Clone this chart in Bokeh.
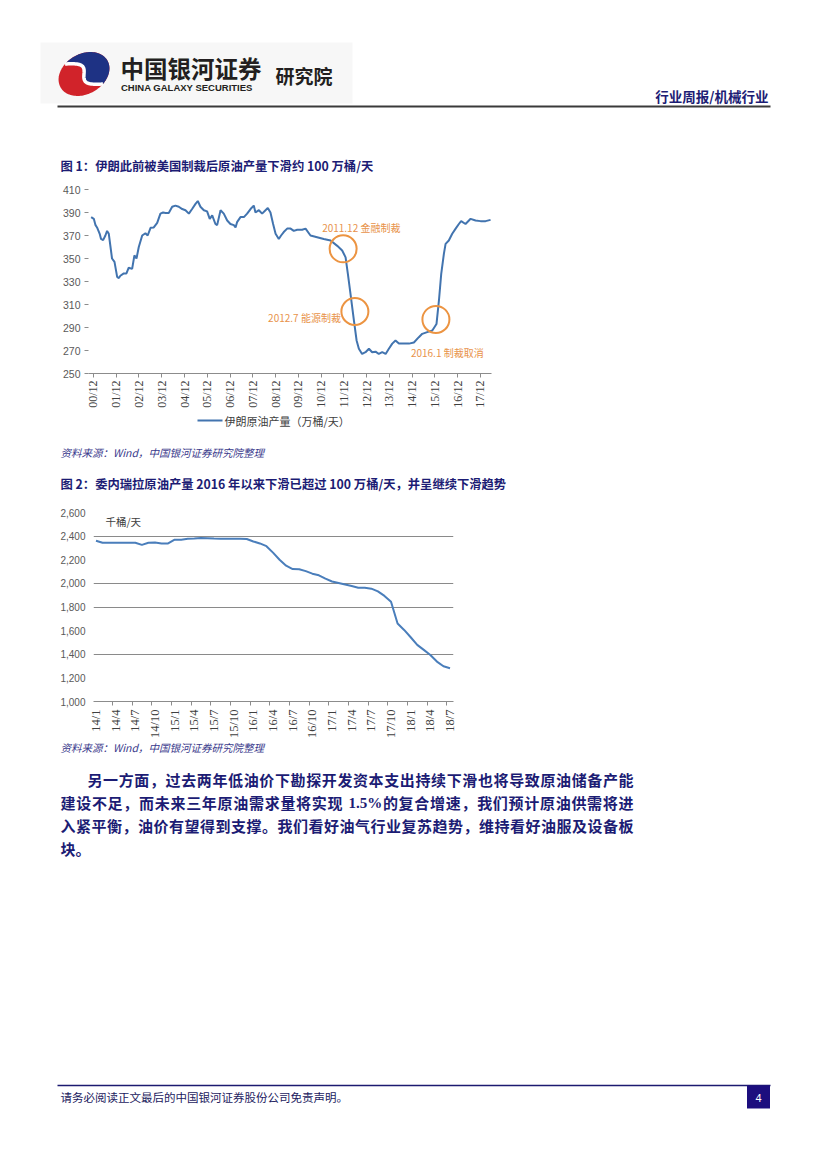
import numpy as np
from bokeh.plotting import figure
from bokeh.models import Range1d, FixedTicker, Label, NumeralTickFormatter
from bokeh.embed import file_html
from bokeh.resources import INLINE
from bokeh.core.properties import value

# ---------------- data ----------------
iran_month = [-1.2, 0.2, 1.1, 1.9, 3.3, 4.0, 5.1, 6.3, 7.2, 8.1, 9.0, 9.8, 11.1, 12.5, 13.4,
              14.2, 16.0, 17.4, 18.6, 20.4, 21.6, 22.7, 23.9, 25.7, 27.4, 28.6, 30.1, 31.8,
              33.6, 35.3, 36.7, 38.0, 39.7, 41.5, 43.2, 45.0, 46.8, 48.5, 50.3, 52.0, 53.8,
              55.0, 56.4, 58.2, 59.9, 61.3, 62.6, 64.3, 65.2, 67.0, 68.7, 70.5, 72.2, 74.0,
              74.9, 75.7, 77.5, 79.3, 81.0, 82.8, 84.5, 85.4, 87.2, 88.9, 90.7, 91.9, 93.3,
              94.7, 96.0, 97.7, 98.9, 100.3, 102.1, 103.9, 105.6, 107.4, 110.0, 111.8,
              114.4, 117.9, 121.4, 125.0, 128.5, 131.1, 132.9, 134.1, 135.5, 137.3, 138.7,
              139.9, 141.6, 143.4, 145.2, 146.9, 148.7, 150.4, 152.2, 154.0, 155.7, 157.5,
              159.2, 161.0, 163.6, 166.3, 168.9, 171.5, 173.3, 175.9, 178.6, 180.8, 182.1,
              183.3, 184.7, 185.6, 187.3, 189.1, 190.9, 192.6, 193.8, 196.1, 198.8, 201.4,
              204.0, 206.7, 209.3]
iran_value = [386, 384.5, 379, 377, 371.5, 367, 366, 370, 374, 371.5, 360, 350, 347, 334, 333,
              335, 337, 337, 342, 341, 352.7, 350, 360, 370, 372, 370, 376.7, 377,
              381, 389, 390, 389.5, 389.5, 395, 396, 395, 393, 392, 389, 393, 397.5,
              400, 395, 392, 391, 384.5, 387.5, 380, 379, 392, 389, 383, 380, 379,
              377, 381.6, 386, 386, 389, 393, 396, 390, 392, 389, 392, 394, 390,
              380, 371.5, 367, 370, 373, 376, 376, 374, 375, 375, 376,
              370, 368.5, 367, 365.6, 361, 357, 351, 336.7, 319, 296, 278.7,
              271.5, 267, 268.5, 271.5, 268.5, 269, 267, 268.5, 267, 271.5, 276,
              278.7, 276, 276, 276, 277, 281.6, 284.5, 286, 287.4, 293, 313.5,
              336.7, 354, 362.7, 365.6, 371.5, 376, 380, 382.5, 380, 384.5, 383,
              382.5, 382.5, 383.6]
iran_tick_month = [0, 12, 24, 36, 48, 60, 72, 84, 96, 108, 120, 132, 144, 156, 168, 180, 192, 204]
iran_tick_label = ["00/12", "01/12", "02/12", "03/12", "04/12", "05/12", "06/12", "07/12",
                   "08/12", "09/12", "10/12", "11/12", "12/12", "13/12", "14/12", "15/12",
                   "16/12", "17/12"]
iran_y_ticks = [250, 270, 290, 310, 330, 350, 370, 390, 410]
iran_legend = "伊朗原油产量（万桶/天）"

ann_month = [131.6, 137.8, 180.5]
ann_value = [358.4, 303.9, 297.0]
ann_label = ["2011.12 金融制裁", "2012.7 能源制裁", "2016.1 制裁取消"]

ven_month = list(range(55))
ven_value = [2361, 2344, 2344, 2344, 2344, 2344, 2344, 2326, 2344, 2346,
             2338, 2338, 2370, 2370, 2377, 2380, 2385, 2382, 2379, 2378,
             2378, 2378, 2378, 2376, 2355, 2338, 2315, 2260, 2200, 2150,
             2121, 2120, 2104, 2082, 2068, 2040, 2016, 2003, 1990, 1977,
             1963, 1963, 1955, 1932, 1894, 1845, 1660, 1606, 1544, 1479,
             1437, 1394, 1338, 1298, 1282]
ven_tick_month = [0, 3, 6, 9, 12, 15, 18, 21, 24, 27, 30, 33, 36, 39, 42, 45, 48, 51, 54]
ven_tick_label = ["14/1", "14/4", "14/7", "14/10", "15/1", "15/4", "15/7", "15/10", "16/1",
                  "16/4", "16/7", "16/10", "17/1", "17/4", "17/7", "17/10", "18/1", "18/4", "18/7"]
ven_y_ticks = [1000, 1200, 1400, 1600, 1800, 2000, 2200, 2400, 2600]
ven_grid_ticks = [1400, 1800, 2000, 2400]
ven_unit = "千桶/天"

header_name = "中国银河证券"
header_en = "CHINA GALAXY SECURITIES"
header_inst = "研究院"
header_right = "行业周报/机械行业"
fig1_title = "图 1：伊朗此前被美国制裁后原油产量下滑约 100 万桶/天"
fig2_title = "图 2：委内瑞拉原油产量 2016 年以来下滑已超过 100 万桶/天，并呈继续下滑趋势"
source_text = "资料来源：Wind，中国银河证券研究院整理"
para_lines = ["另一方面，过去两年低油价下勘探开发资本支出持续下滑也将导致原油储备产能",
              "建设不足，而未来三年原油需求量将实现 1.5%的复合增速，我们预计原油供需将进",
              "入紧平衡，油价有望得到支撑。我们看好油气行业复苏趋势，维持看好油服及设备板",
              "块。"]
footer_text = "请务必阅读正文最后的中国银河证券股份公司免责声明。"
page_no = "4"

# ---------------- style ----------------
W = 827
CJK = "Noto Sans CJK SC"
NAVY = "#1c1c74"
SRC = "#3a3a8c"
ORANGE = "#EC9442"
BLUE1 = "#4274AF"
BLUE2 = "#4A7EBB"
AXIS_GRAY = "#8c8c8c"
TICK_TXT = "#595959"


def canvas(top, bottom):
    p = figure(width=W, height=bottom - top, x_range=Range1d(0, W),
               y_range=Range1d(bottom, top), x_axis_type=None, y_axis_type=None,
               output_backend="svg", toolbar_location=None, min_border=0)
    p.outline_line_color = None
    return p


def txt(p, x, y, s, size, color, font=CJK, style="normal", align="left"):
    p.text(x=[x], y=[y], text=[s], text_font=value(font), text_font_size=f"{size}px",
           text_color=color, text_font_style=style, text_align=align, text_baseline="middle")


# ---------------- header band ----------------
pa = canvas(0, 180)
pa.quad(left=[40], right=[352], top=[42], bottom=[103], fill_color="#f7f7f7", line_color=None)

cx, cy, a, b, phi = 83.5, 73.5, 27.0, 20.0, np.deg2rad(-30)


def to_page(lx, ly):
    return (cx + lx * np.cos(phi) - ly * np.sin(phi), cy + lx * np.sin(phi) + ly * np.cos(phi))


tt = np.linspace(0, 2 * np.pi, 120)
ex, ey = to_page(a * np.cos(tt), b * np.sin(tt))
pa.patch(ex, ey, fill_color="#D1232A", line_color=None)
t_top, t_bot = np.deg2rad(-115), np.deg2rad(65)
ss = np.linspace(0, 1, 50)
x0l, y0l = a * np.cos(t_top), b * np.sin(t_top)
x1l, y1l = a * np.cos(t_bot), b * np.sin(t_bot)
slx = x0l + (x1l - x0l) * ss + 0.28 * a * np.sin(2 * np.pi * ss)
sly = y0l + (y1l - y0l) * ss
arc = np.linspace(t_bot, t_top, 80)
nx, ny = to_page(np.concatenate([slx, a * np.cos(arc)]), np.concatenate([sly, b * np.sin(arc)]))
pa.patch(nx, ny, fill_color="#1E3284", line_color=None)
sx, sy = to_page(slx, sly)
pa.line(sx, sy, line_color="white", line_width=3.5)

txt(pa, 120, 67, header_name, 23.5, "#231f20", style="bold")
txt(pa, 120.5, 86.5, header_en, 9.5, "#231f20", font="Liberation Sans", style="bold")
txt(pa, 275, 74.5, header_inst, 19, "#231f20", style="bold")
txt(pa, 768, 95, header_right, 13.5, NAVY, style="bold", align="right")
pa.line([57, 770], [106, 106], line_color="#3a3a3a", line_width=2)
txt(pa, 60, 165, fig1_title, 12.3, NAVY, style="bold")

# ---------------- chart 1 ----------------
p1 = figure(width=W, height=231, x_range=Range1d(-2.6, 209.8), y_range=Range1d(250, 410),
            output_backend="svg", toolbar_location=None,
            min_border_left=88, min_border_right=336, min_border_top=9, min_border_bottom=38)
p1.outline_line_color = None
p1.grid.visible = False
p1.line(iran_month, iran_value, line_color=BLUE1, line_width=2)

p1.xaxis.ticker = FixedTicker(ticks=iran_tick_month)
p1.xaxis.major_label_overrides = {m: l for m, l in zip(iran_tick_month, iran_tick_label)}
p1.xaxis.major_label_orientation = np.pi / 2
p1.xaxis.axis_line_color = AXIS_GRAY
p1.xaxis.major_tick_line_color = AXIS_GRAY
p1.xaxis.major_tick_in = 0
p1.xaxis.major_tick_out = 4
p1.xaxis.minor_tick_out = 0
p1.xaxis.minor_tick_in = 0
p1.xaxis.major_label_standoff = 3
p1.xaxis.major_label_text_font = "Liberation Serif"
p1.xaxis.major_label_text_font_size = "12px"
p1.xaxis.major_label_text_color = "#404040"

p1.yaxis.ticker = FixedTicker(ticks=iran_y_ticks)
p1.yaxis.axis_line_color = None
p1.yaxis.major_tick_line_color = AXIS_GRAY
p1.yaxis.major_tick_in = 0
p1.yaxis.major_tick_out = 4
p1.yaxis.minor_tick_out = 0
p1.yaxis.minor_tick_in = 0
p1.yaxis.major_label_standoff = 4
p1.yaxis.major_label_text_font = "Liberation Sans"
p1.yaxis.major_label_text_font_size = "10.5px"
p1.yaxis.major_label_text_color = TICK_TXT

p1.scatter(ann_month, ann_value, marker="circle", size=27, fill_color=None,
           line_color=ORANGE, line_width=2)
ann_dx = [-21, -14, -25]
ann_dy = [-21.6, 5.7, 32.7]
ann_align = ["left", "right", "left"]
for m, v, lab, dx, dy, al in zip(ann_month, ann_value, ann_label, ann_dx, ann_dy, ann_align):
    p1.text(x=[m], y=[v], text=[lab], x_offset=dx, y_offset=dy, text_align=al,
            text_baseline="middle", text_font=value(CJK), text_font_size="10px",
            text_color="#E8934A")

# ---------------- middle band (legend, source, title 2) ----------------
pc = canvas(411, 500)
pc.line([197, 222], [420, 420], line_color=BLUE1, line_width=2)
txt(pc, 224, 420, iran_legend, 11, "#404040")
txt(pc, 60, 451.7, source_text, 10.5, SRC, style="italic")
txt(pc, 60, 483, fig2_title, 12.3, NAVY, style="bold")

# ---------------- chart 2 ----------------
p2 = figure(width=W, height=240, x_range=Range1d(-0.38, 54.53), y_range=Range1d(1000, 2600),
            output_backend="svg", toolbar_location=None,
            min_border_left=93, min_border_right=374, min_border_top=12, min_border_bottom=38)
p2.outline_line_color = None
p2.xgrid.visible = False
p2.ygrid.ticker = FixedTicker(ticks=ven_grid_ticks)
p2.ygrid.grid_line_color = "#8a8a8a"
p2.ygrid.grid_line_width = 1
p2.line(ven_month, ven_value, line_color=BLUE2, line_width=2)

p2.xaxis.ticker = FixedTicker(ticks=ven_tick_month,
                              minor_ticks=[m - 0.5 for m in ven_tick_month[1:]])
p2.xaxis.major_label_overrides = {m: l for m, l in zip(ven_tick_month, ven_tick_label)}
p2.xaxis.major_label_orientation = np.pi / 2
p2.xaxis.axis_line_color = AXIS_GRAY
p2.xaxis.major_tick_out = 0
p2.xaxis.major_tick_in = 0
p2.xaxis.minor_tick_out = 4
p2.xaxis.minor_tick_in = 0
p2.xaxis.minor_tick_line_color = AXIS_GRAY
p2.xaxis.major_label_standoff = 4
p2.xaxis.major_label_text_font = "Liberation Serif"
p2.xaxis.major_label_text_font_size = "12.5px"
p2.xaxis.major_label_text_color = "#404040"

p2.yaxis.ticker = FixedTicker(ticks=ven_y_ticks)
p2.yaxis.formatter = NumeralTickFormatter(format="0,0")
p2.yaxis.axis_line_color = None
p2.yaxis.major_tick_out = 0
p2.yaxis.major_tick_in = 0
p2.yaxis.minor_tick_out = 0
p2.yaxis.minor_tick_in = 0
p2.yaxis.major_label_standoff = 8
p2.yaxis.major_label_text_font = "Liberation Sans"
p2.yaxis.major_label_text_font_size = "10px"
p2.yaxis.major_label_text_color = TICK_TXT

p2.add_layout(Label(x=1.45, y=2520, text=ven_unit, text_font=CJK, text_font_size="10.5px",
                    text_color="#404040", text_baseline="middle"))

# ---------------- bottom band ----------------
pe = canvas(740, 1169)
txt(pe, 60, 746.7, source_text, 10.5, SRC, style="italic")

LAT_W = {".": 0.25, "%": 1.0, " ": 0.3}


def tokens(s):
    out, buf = [], ""
    for c in s:
        if ord(c) >= 0x2E80 or c == " ":
            if buf:
                out.append(buf)
                buf = ""
            out.append(c)
        else:
            buf += c
    if buf:
        out.append(buf)
    return out


def tok_w(t):
    if len(t) == 1 and ord(t) >= 0x2E80:
        return 1.0
    return sum(LAT_W.get(c, 0.5) for c in t)


PSIZE = 15
line_x0 = [87, 60, 60, 60]
line_x1 = [633, 633, 633, None]
line_y = [779, 802, 825, 848]
cx_l, cy_l, ct_l = [], [], []
for s, x0, x1, y in zip(para_lines, line_x0, line_x1, line_y):
    toks = tokens(s)
    widths = [tok_w(t) * PSIZE for t in toks]
    extra = 0.0
    if x1 is not None and len(toks) > 1:
        extra = (x1 - x0 - sum(widths)) / (len(toks) - 1)
    x = x0
    for t, w in zip(toks, widths):
        if t != " ":
            cx_l.append(x)
            cy_l.append(y)
            ct_l.append(t)
        x += w + extra

cjk_idx = [i for i, t in enumerate(ct_l) if ord(t[0]) >= 0x2E80]
lat_idx = [i for i, t in enumerate(ct_l) if ord(t[0]) < 0x2E80]
pe.text(x=[cx_l[i] for i in cjk_idx], y=[cy_l[i] for i in cjk_idx], text=[ct_l[i] for i in cjk_idx],
        text_font=value(CJK), text_font_size=f"{PSIZE}px", text_font_style="bold",
        text_color=NAVY, text_baseline="middle", text_align="left")
pe.text(x=[cx_l[i] for i in lat_idx], y=[cy_l[i] for i in lat_idx], text=[ct_l[i] for i in lat_idx],
        text_font=value("Liberation Serif"), text_font_size=f"{PSIZE}px", text_font_style="bold",
        text_color=NAVY, text_baseline="middle", text_align="left")

pe.line([57, 770], [1085, 1085], line_color="#1c1a70", line_width=1.5)
pe.quad(left=[746.5], right=[769.5], top=[1085], bottom=[1108], fill_color="#1c0e7e", line_color=None)
txt(pe, 758, 1097, page_no, 11, "white", font="Liberation Sans", align="center")
txt(pe, 60, 1096, footer_text, 11.5, "#1c1a60")

open("out.html", "w").write(file_html([pa, p1, pc, p2, pe], INLINE))
